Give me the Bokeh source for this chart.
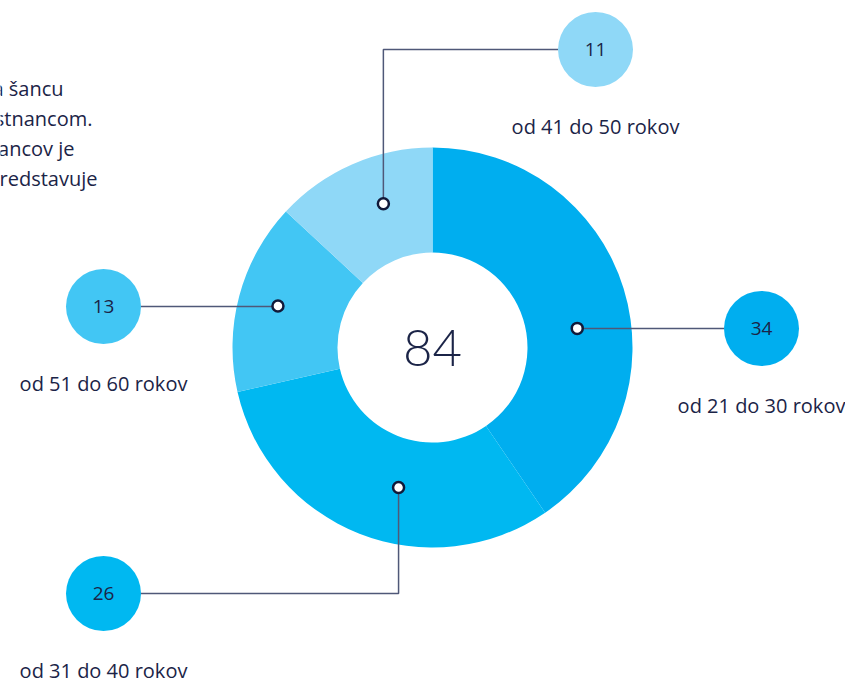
import numpy as np
from bokeh.plotting import figure
from bokeh.models import Range1d
from bokeh.core.properties import value
from bokeh.embed import file_html
from bokeh.resources import INLINE

# ---------------- data ----------------
categories = ["od 21 do 30 rokov", "od 31 do 40 rokov", "od 51 do 60 rokov", "od 41 do 50 rokov"]
counts = [34, 26, 13, 11]
intro_lines = ["dostala šancu", "zamestnancom.", "zamestnancov je", "predstavuje"]

# ---------------- style / layout (page pixel coordinates) ----------------
colors = ["#00AEEF", "#00B8F1", "#42C6F4", "#8FD8F7"]
TEXT = "#1b2447"
LINE = "#4f5878"
W, H = 845, 681                 # page size
center = (432, 347)             # donut centre
r_in, r_out = 95, 200
# anchor dot placement inside each slice: fraction of the slice (clockwise) and radius
anchor_frac = [0.566, 0.43, 0.50, 0.60]
anchor_rad = [146, 144, 160, 152]
bubble_xy = [(761, 328), (103, 593), (103, 306), (595, 49)]
bubble_r = 37.5
label_dy = 77
intro_end_x = [63, 92, 74, 97]
intro_y = [88, 118, 148, 178]

def py(y):  # page y -> data y
    return H - y

p = figure(width=W, height=H, x_range=Range1d(0, W), y_range=Range1d(0, H),
           output_backend="svg", toolbar_location=None, min_border=0)
p.axis.visible = False
p.grid.visible = False
p.outline_line_color = None
p.background_fill_color = "white"
p.border_fill_color = "white"

total = sum(counts)
cum = np.concatenate([[0], np.cumsum(counts)])
start = np.pi / 2 - 2 * np.pi * cum[1:] / total
end = np.pi / 2 - 2 * np.pi * cum[:-1] / total
cx, cy = center[0], py(center[1])

p.annular_wedge(x=cx, y=cy, inner_radius=r_in, outer_radius=r_out,
                start_angle=list(start), end_angle=list(end),
                fill_color=colors, line_color=None)

# anchors
ax, ay = [], []
for i in range(len(counts)):
    a = end[i] - anchor_frac[i] * (end[i] - start[i])
    ax.append(cx + anchor_rad[i] * np.cos(a))
    ay.append(cy + anchor_rad[i] * np.sin(a))

bx = [b[0] for b in bubble_xy]
by = [py(b[1]) for b in bubble_xy]

xs, ys = [], []
for i in range(len(counts)):
    edge = bx[i] - bubble_r if bx[i] > ax[i] else bx[i] + bubble_r
    xs.append([ax[i], ax[i], edge])
    ys.append([ay[i], by[i], by[i]])
p.multi_line(xs, ys, line_color=LINE, line_width=1.5)

p.circle(x=bx, y=by, radius=bubble_r, fill_color=colors, line_color=None)
p.scatter(x=ax, y=ay, size=11, marker="circle", fill_color="white",
          line_color="#111a3a", line_width=2.5)

p.text(x=bx, y=by, text=[str(c) for c in counts], text_align="center",
       text_baseline="middle", text_font=value("Open Sans"), text_font_size="19px",
       text_color=TEXT)
p.text(x=bx, y=[b - label_dy for b in by], text=categories, text_align="center",
       text_baseline="middle", text_font=value("Open Sans"), text_font_size="20px",
       text_color=TEXT)
p.text(x=[cx], y=[cy], text=[str(total)], text_align="center", text_baseline="middle",
       text_font=value("Lato Light"), text_font_size="51px", text_color=TEXT)
p.text(x=intro_end_x, y=[py(v) for v in intro_y], text=intro_lines, text_align="right",
       text_baseline="middle", text_font=value("Open Sans"), text_font_size="20px",
       text_color=TEXT)

open("out.html", "w").write(file_html(p, INLINE))
